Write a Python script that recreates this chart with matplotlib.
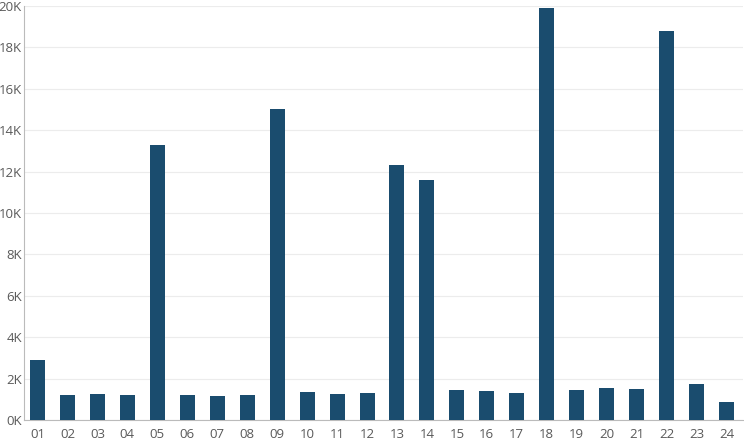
import matplotlib.pyplot as plt
from matplotlib.ticker import FuncFormatter

labels = ['01', '02', '03', '04', '05', '06', '07', '08', '09', '10', '11', '12',
          '13', '14', '15', '16', '17', '18', '19', '20', '21', '22', '23', '24']
values = [2900, 1200, 1250, 1200, 13300, 1200, 1150, 1200, 15000, 1350, 1250, 1300,
          12300, 11600, 1450, 1400, 1300, 19900, 1450, 1550, 1500, 18800, 1750, 870]

plt.rcParams['font.family'] = ['Open Sans', 'DejaVu Sans']

fig = plt.figure(figsize=(7.44, 4.48), dpi=100)
ax = fig.add_axes([24 / 744, 28 / 448, 719 / 744, 414 / 448])

x = range(len(labels))
ax.bar(x, values, width=0.5, color='#1a4c6e', zorder=3)

ax.set_xlim(-0.45, 23.55)
ax.set_ylim(0, 20000)
ax.set_yticks(range(0, 20001, 2000))
ax.yaxis.set_major_formatter(FuncFormatter(lambda v, p: f'{int(v / 1000)}K'))
ax.set_xticks(list(x))
ax.set_xticklabels(labels)

ax.grid(axis='y', color='#ececec', linewidth=0.8, zorder=0)
for s in ['top', 'right']:
    ax.spines[s].set_visible(False)
ax.spines['left'].set_color('#bbbbbb')
ax.spines['bottom'].set_color('#bbbbbb')
ax.tick_params(axis='both', length=0, colors='#5a5a5a', labelsize=9.5)
ax.tick_params(axis='y', pad=1.5)
ax.tick_params(axis='x', pad=6)

fig.savefig('out.png', dpi=100)
